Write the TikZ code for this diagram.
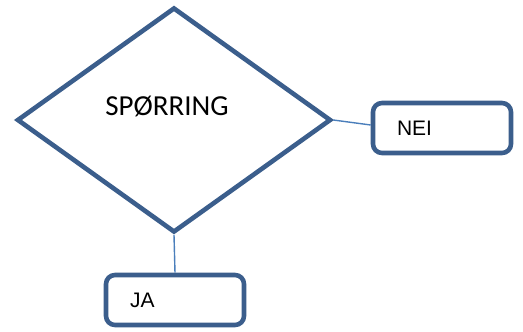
\documentclass[tikz,border=0pt]{standalone}
\usepackage{fontspec}
\usepackage{tikz}
\usetikzlibrary{shapes.geometric}
\newfontfamily\calfont{Carlito}
\newfontfamily\arialfont{Liberation Sans}
\definecolor{boxblue}{HTML}{3B5E8C}
\definecolor{linkblue}{HTML}{4A7EBB}
\tikzset{
  answer/.style={draw=boxblue,line width=4.6,rounded corners=9,rectangle,
    minimum height=50,inner xsep=24,text width=90,align=left,
    font=\arialfont\fontsize{21}{24}\selectfont},
  link/.style={draw=linkblue,line width=1.4}
}
\begin{document}
\begin{tikzpicture}[x=1pt,y=-1pt]
\useasboundingbox(0,0)rectangle(523,332);
%question
\node[draw=boxblue,line width=4.6,diamond,inner sep=0,minimum width=314,minimum height=225](dia)at(174,120){};
\node[anchor=base,font=\calfont\fontsize{29}{32}\selectfont](q)at(167,115){SPØRRING};
%answers
\node[answer](nei)at(442,128){NEI};
\node[answer](ja)at(175,300){JA};
%links
\draw[link](dia.east)--([yshift=3]nei.west);
\draw[link](dia.south)--(ja.north);
\end{tikzpicture}
\end{document}
